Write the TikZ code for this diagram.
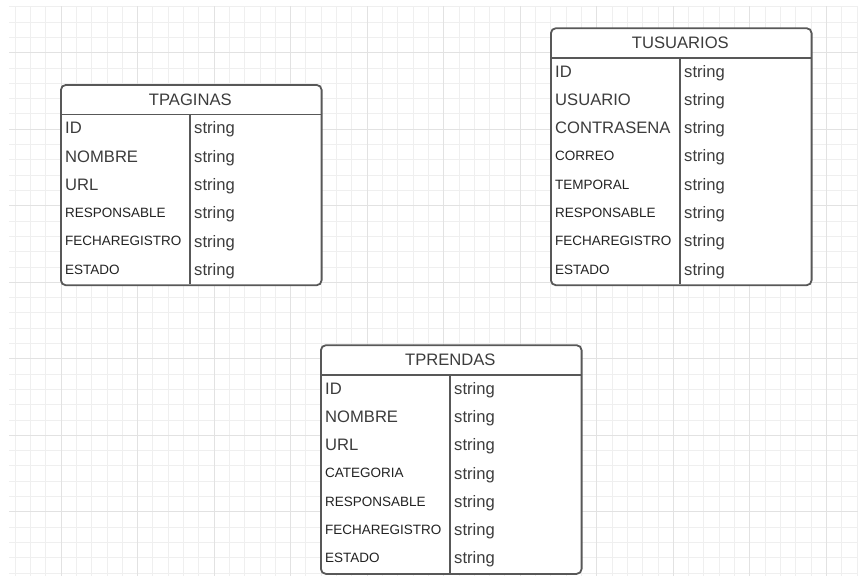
\documentclass[tikz,border=0pt]{standalone}
\usepackage{fontspec}
\setmainfont{Liberation Sans}
\definecolor{gridminor}{HTML}{EFEFEF}
\definecolor{gridmajor}{HTML}{E2E2E2}
\definecolor{framecol}{HTML}{585858}
\definecolor{ink}{HTML}{3C3C3C}
\definecolor{inkdark}{HTML}{222222}
\tikzset{
  tframe/.style={draw=framecol, line width=1.8pt, rounded corners=5pt, fill=white, inner sep=0pt},
  tline/.style={draw=framecol, line width=1.8pt},
  fieldtxt/.style={inner sep=0pt, anchor=base west},
  titletxt/.style={font=\fontsize{16.6}{18}\selectfont, text=ink, inner sep=0pt, anchor=base},
  gminor/.style={draw=gridminor, line width=0.8pt},
  gmajor/.style={draw=gridmajor, line width=0.9pt},
}
% #1 name, #2 left x, #3 top y, #4 title, #5 number of rows,
% #6 rows as size/baseline-offset/colour/label
\newcommand\erdtable[6]{%
  \pgfmathsetmacro\erdH{#3+30.4}%
  \pgfmathsetmacro\erdB{\erdH+28.33*#5}%
  \pgfmathsetmacro\erdHt{\erdB-#3}%
  \node[tframe, anchor=north west, minimum width=260.7pt, minimum height=\erdHt pt] (#1) at (#2,#3) {};
  \node[titletxt] (#1-title) at (#2+130.35,{#3+15.2+5.9}) {#4};
  \draw[tline] (#2,\erdH) -- (#2+260.7,\erdH);
  \draw[tline] (#2+130,\erdH) -- (#2+130,\erdB);
  \foreach \fs/\off/\col/\lab [count=\k from 0] in {#6} {
    \pgfmathsetmacro\yc{\erdH+13.4+28.33*\k}
    \node[fieldtxt, text=\col, font=\fontsize{\fs}{\fs}\selectfont] (#1-f\k) at (#2+5,\yc+\off) {\lab};
    \node[fieldtxt, text=ink, font=\fontsize{16.6}{18}\selectfont] (#1-t\k) at (#2+134,\yc+5.9) {string};
  }
}

\begin{document}
\begin{tikzpicture}[x=1pt,y=-1pt]
\useasboundingbox (0,0) rectangle (858,576);
\fill[white] (0,0) rectangle (858,576);

% background grid
\begin{scope}
  \clip (9,6) rectangle (858,576);
  \foreach \i in {0,...,55} {
    \draw[gminor] ({15.08+15.306*\i},6) -- ++(0,570);
  }
  \foreach \j in {0,...,37} {
    \draw[gminor] (9,{6.7+15.306*\j}) -- ++(849,0);
  }
  \foreach \i in {0,...,10} {
    \draw[gmajor] ({61+76.53*\i},6) -- ++(0,570);
  }
  \foreach \j in {0,...,6} {
    \draw[gmajor] (9,{52.6+76.53*\j}) -- ++(849,0);
  }
\end{scope}

\erdtable{tpaginas}{60}{84}{TPAGINAS}{6}{%
  16.6/5.9/ink/ID, 16.6/5.9/ink/NOMBRE, 16.6/5.9/ink/URL,
  13.5/4.8/inkdark/RESPONSABLE, 13.5/4.8/inkdark/FECHAREGISTRO,
  13.5/4.8/inkdark/ESTADO}

\erdtable{tusuarios}{550}{27.3}{TUSUARIOS}{8}{%
  16.6/5.9/ink/ID, 16.6/5.9/ink/USUARIO, 16.6/5.9/ink/CONTRASENA,
  13.5/4.8/inkdark/CORREO, 13.5/4.8/inkdark/TEMPORAL,
  13.5/4.8/inkdark/RESPONSABLE, 13.5/4.8/inkdark/FECHAREGISTRO,
  13.5/4.8/inkdark/ESTADO}

\erdtable{tprendas}{320}{344.3}{TPRENDAS}{7}{%
  16.6/5.9/ink/ID, 16.6/5.9/ink/NOMBRE, 16.6/5.9/ink/URL,
  13.5/4.8/inkdark/CATEGORIA, 13.5/4.8/inkdark/RESPONSABLE,
  13.5/4.8/inkdark/FECHAREGISTRO, 13.5/4.8/inkdark/ESTADO}
\end{tikzpicture}
\end{document}
